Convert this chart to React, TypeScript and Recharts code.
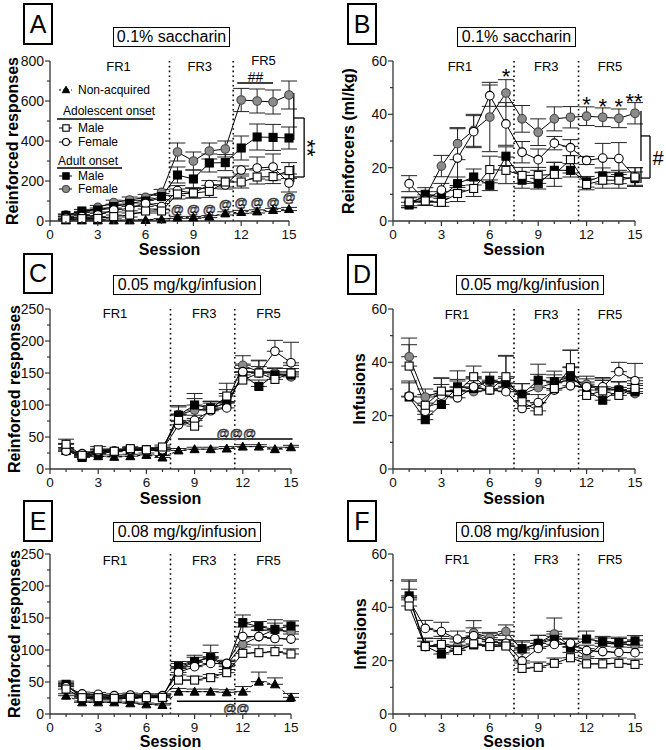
import React from 'react';
import { LineChart, Line, XAxis, YAxis, ErrorBar, ReferenceLine, ReferenceDot } from 'recharts';

const FONT = '"Liberation Sans", Arial, sans-serif';
const AX = '#333';
const GRAY = '#8c8c8c';

const sessions = [1, 2, 3, 4, 5, 6, 7, 8, 9, 10, 11, 12, 13, 14, 15];
const xTicks = [0, 1, 2, 3, 4, 5, 6, 7, 8, 9, 10, 11, 12, 13, 14, 15];
const phaseBreaks = [7.5, 11.5];

// A: reinforced responses, 0.1% saccharin
const aNon = [3, 3, 3, 3, 3, 5, 8, 18, 18, 22, 38, 45, 48, 55, 60];
const aNonErr = [2, 2, 2, 2, 2, 3, 4, 5, 5, 5, 8, 8, 8, 8, 8];
const aAdoM = [10, 12, 13, 22, 30, 50, 50, 135, 140, 148, 195, 195, 220, 222, 252];
const aAdoMErr = [3, 5, 5, 8, 10, 10, 10, 25, 25, 30, 25, 30, 35, 35, 40];
const aAdoF = [15, 22, 30, 55, 63, 88, 72, 152, 140, 182, 180, 255, 265, 270, 190];
const aAdoFErr = [5, 5, 8, 10, 12, 15, 15, 25, 25, 20, 20, 20, 55, 65, 45];
const aAdtM = [28, 50, 55, 72, 88, 100, 122, 230, 210, 290, 292, 365, 420, 418, 415];
const aAdtMErr = [5, 8, 10, 12, 15, 15, 15, 40, 45, 45, 40, 60, 65, 65, 55];
const aAdtF = [30, 40, 68, 92, 105, 118, 143, 345, 300, 350, 360, 605, 600, 595, 630];
const aAdtFErr = [5, 8, 10, 12, 15, 15, 15, 45, 45, 40, 40, 58, 60, 60, 70];

// B: reinforcers (ml/kg), 0.1% saccharin
const bAdoM = [7.2, 7.5, 7, 10.3, 12.2, 19.3, 19, 17.1, 17.1, 17.5, 23, 13.7, 15.3, 15.3, 16.5];
const bAdoMErr = [1.5, 1.5, 1.5, 3, 3, 5, 5, 3, 3, 4.5, 5, 2, 3, 3, 3.5];
const bAdoF = [14, 7.8, 11.6, 23.6, 33.5, 47, 36.4, 25.8, 23, 29.2, 27.5, 22.7, 23.6, 23.4, 16.5];
const bAdoFErr = [3, 2, 2.5, 11, 6, 4, 8, 4, 4, 2.5, 3, 1.5, 5.5, 6, 3.5];
const bAdtM = [6, 10, 9, 14, 16.5, 13.4, 24.3, 15.3, 14, 19, 19, 14.7, 16.9, 16.5, 15.9];
const bAdtMErr = [1, 2.5, 2, 2.5, 3, 2, 3.5, 3, 2, 3, 2.5, 2, 3, 2.5, 2.5];
const bAdtF = [7, 9, 20.6, 29, 34, 39, 48, 38.3, 33.3, 38.3, 38.9, 39.3, 38.9, 38.5, 40.4];
const bAdtFErr = [2, 2, 4, 6, 6, 13, 5, 5, 5, 4.5, 4, 3.5, 3.5, 3.5, 4];

// C: reinforced responses, 0.05 mg/kg/infusion
const cNon = [28, 20, 20, 19, 20, 22, 18, 29, 31, 31, 32, 35, 35, 31, 34];
const cNonErr = [5, 3, 3, 3, 3, 3, 3, 3, 3, 3, 3, 3, 3, 3, 3];
const cAdoM = [38.6, 21.4, 30, 27.7, 31.8, 30, 34.4, 76, 67, 93, 114, 139, 150, 140, 150];
const cAdoMErr = [8, 3, 5, 3, 3, 3, 3, 10, 12, 10, 20, 12, 20, 12, 12];
const cAdoF = [28, 24, 28, 28, 30, 29, 30, 69, 76, 91, 95.5, 152, 150, 184, 166];
const cAdoFErr = [5, 3, 3, 3, 3, 3, 3, 5, 8, 8, 10, 12, 10, 17, 32];
const cAdtM = [30, 18, 24, 27, 30, 30, 28, 84, 100, 95.5, 103, 147, 129, 147, 147];
const cAdtMErr = [10, 3, 3, 3, 3, 3, 3, 15, 18, 10, 15, 10, 10, 10, 10];
const cAdtF = [33, 20, 26, 28, 30, 30, 30, 85, 92, 94, 104, 162, 152, 150, 144];
const cAdtFErr = [6, 3, 5, 3, 3, 3, 3, 12, 18, 12, 20, 15, 17, 8, 8];

// D: infusions, 0.05 mg/kg/infusion
const dAdoM = [38.6, 23.9, 29.2, 29, 34.6, 29.6, 34.6, 25.2, 21.8, 30.2, 38, 27.6, 29.3, 27.6, 30.2];
const dAdoMErr = [8, 4, 5, 4, 4, 3, 8, 3, 3, 4, 6.5, 3, 5, 3, 4];
const dAdoF = [27.3, 21.7, 27.7, 26.7, 30.8, 29.6, 29, 22.7, 24.9, 29.6, 31.2, 30.8, 30.8, 36.5, 33.1];
const dAdoFErr = [5, 3, 4, 4, 3, 3, 3, 3, 3, 3, 3, 3, 3, 3.5, 6.5];
const dAdtM = [27, 18.5, 24.2, 30.8, 30.2, 33.3, 32.3, 28, 33.3, 32.7, 34.6, 29.6, 25.8, 29.6, 29];
const dAdtMErr = [6, 2, 3, 6, 4, 3, 10, 4, 6, 4, 10, 3, 4, 3, 3];
const dAdtF = [42.1, 27, 29, 29.6, 29, 29.6, 31, 28, 30.5, 32.3, 33.3, 31.8, 30.2, 29.8, 28.3];
const dAdtFErr = [7, 3, 5, 4, 3, 3, 3, 4, 5, 3, 5, 3, 3, 3, 3];

// E: reinforced responses, 0.08 mg/kg/infusion
const eNon = [28.6, 18.2, 18.2, 18.2, 16.7, 15.1, 14.1, 34.9, 34.9, 34.9, 33.9, 34.9, 50.5, 46.4, 26];
const eNonErr = [3, 2, 2, 2, 2, 2, 2, 5, 4, 4, 4, 8, 15, 10, 6];
const eAdoM = [39, 25.5, 25.5, 24.5, 26, 25.5, 26, 53, 53, 56.8, 64.6, 94.8, 95.8, 97.4, 93.8];
const eAdoMErr = [5, 3, 3, 3, 3, 3, 3, 8, 6, 5, 5, 10, 12, 10, 8];
const eAdoF = [42.7, 31.3, 30.7, 28.6, 29.7, 28.6, 28.6, 65, 74, 79, 79, 121, 121, 118, 117];
const eAdoFErr = [5, 3, 3, 3, 3, 3, 3, 8, 8, 8, 5, 15, 10, 12, 8];
const eAdtM = [46.4, 24.5, 23.4, 23.4, 24.5, 26, 25.5, 74, 81.8, 88, 74, 142.7, 136.5, 132.3, 137.5];
const eAdtMErr = [5, 3, 3, 3, 3, 3, 3, 8, 10, 8, 8, 12, 8, 15, 8];
const eAdtF = [43.8, 28, 27, 25.5, 28, 27, 27, 71, 80.7, 89.6, 76.6, 108.9, 121, 132, 128.6];
const eAdtFErr = [5, 3, 3, 3, 3, 3, 3, 8, 8, 18, 6, 10, 10, 10, 10];

// F: infusions, 0.08 mg/kg/infusion
const fAdoM = [40.5, 25.3, 26.1, 23.8, 26.3, 25.3, 25.5, 17.1, 17.5, 19, 21.1, 18.8, 18.8, 19, 18.6];
const fAdoMErr = [3, 2, 3, 2, 2, 2, 2, 2, 2, 2, 2, 2, 2, 2, 2];
const fAdoF = [42.8, 32.1, 30.9, 28.1, 29.3, 27.1, 26.5, 19.9, 24.6, 26.1, 26.5, 23.8, 23.4, 23.1, 23];
const fAdoFErr = [4, 3, 3.5, 3, 3, 3, 3, 3, 3, 3, 2, 2, 2, 2, 2];
const fAdtM = [44.3, 25.5, 22.5, 24, 25.9, 25.9, 25.9, 24.5, 26.5, 28, 25, 28.1, 27.1, 26.8, 27.4];
const fAdtMErr = [6, 3, 3, 3, 3, 2, 2, 3, 3, 3, 3, 3, 2, 2, 2];
const fAdtF = [43.8, 25.3, 25.3, 25.5, 30.5, 28.6, 30.9, 24, 26.5, 30, 25.3, 21.5, 26.5, 26.3, 25.8];
const fAdtFErr = [6, 3, 3, 3, 4.5, 2, 2.5, 3, 3, 6, 3, 3, 2, 2, 2];

type Col = [string, number[], number[]];

function buildRows(cols: Col[], oneSided: boolean) {
  return sessions.map((s, i) => {
    const r: any = { session: s };
    cols.forEach(([k, v, e]) => {
      r[k] = v[i];
      r[k + 'E'] = oneSided ? [0, e[i]] : e[i];
    });
    return r;
  });
}

const dataA = buildRows([['non', aNon, aNonErr], ['adtF', aAdtF, aAdtFErr], ['adtM', aAdtM, aAdtMErr], ['adoF', aAdoF, aAdoFErr], ['adoM', aAdoM, aAdoMErr]], false);
const dataB = buildRows([['adtF', bAdtF, bAdtFErr], ['adtM', bAdtM, bAdtMErr], ['adoF', bAdoF, bAdoFErr], ['adoM', bAdoM, bAdoMErr]], false);
const dataC = buildRows([['non', cNon, cNonErr], ['adtF', cAdtF, cAdtFErr], ['adtM', cAdtM, cAdtMErr], ['adoF', cAdoF, cAdoFErr], ['adoM', cAdoM, cAdoMErr]], true);
const dataD = buildRows([['adtF', dAdtF, dAdtFErr], ['adtM', dAdtM, dAdtMErr], ['adoF', dAdoF, dAdoFErr], ['adoM', dAdoM, dAdoMErr]], true);
const dataE = buildRows([['non', eNon, eNonErr], ['adtF', eAdtF, eAdtFErr], ['adtM', eAdtM, eAdtMErr], ['adoF', eAdoF, eAdoFErr], ['adoM', eAdoM, eAdoMErr]], true);
const dataF = buildRows([['adtF', fAdtF, fAdtFErr], ['adtM', fAdtM, fAdtMErr], ['adoF', fAdoF, fAdoFErr], ['adoM', fAdoM, fAdoMErr]], true);

const STYLE: Record<string, { shape: string; fill: string; stroke: string; dash?: string }> = {
  non: { shape: 'triangle', fill: '#000', stroke: '#000', dash: '3 3' },
  adtF: { shape: 'circle', fill: GRAY, stroke: '#444' },
  adtM: { shape: 'square', fill: '#000', stroke: '#000' },
  adoF: { shape: 'circle', fill: '#fff', stroke: '#000' },
  adoM: { shape: 'square', fill: '#fff', stroke: '#000' },
};

function drawMarker(shape: string, fill: string, stroke: string, cx: number, cy: number, s = 4) {
  if (shape === 'square')
    return <rect x={cx - s} y={cy - s} width={2 * s} height={2 * s} fill={fill} stroke={stroke} strokeWidth={1.1} />;
  if (shape === 'circle') return <circle cx={cx} cy={cy} r={s + 0.3} fill={fill} stroke={stroke} strokeWidth={1.1} />;
  return <path d={`M${cx},${cy - s - 0.5}L${cx + s + 0.5},${cy + s - 0.5}L${cx - s - 0.5},${cy + s - 0.5}Z`} fill={fill} stroke={stroke} />;
}

const dotFor = (k: string) => (p: any) => {
  const st = STYLE[k];
  if (p.cx == null || p.cy == null) return <g key={p.index} />;
  return <g key={p.index}>{drawMarker(st.shape, st.fill, st.stroke, p.cx, p.cy)}</g>;
};

const xTick = (p: any) => {
  const v = p.payload.value;
  const major = v % 3 === 0;
  return (
    <g>
      <line x1={p.x} x2={p.x} y1={p.y} y2={p.y + (major ? 5 : 3)} stroke={AX} strokeWidth={1.2} />
      {major && (
        <text x={p.x} y={p.y + 18} textAnchor="middle" fontSize={13.5} fill="#111">
          {v}
        </text>
      )}
    </g>
  );
};

const yTick = (major: number) => (p: any) => {
  const v = p.payload.value;
  const isMajor = v % major === 0;
  return (
    <g>
      <line x1={p.x - (isMajor ? 5 : 3)} x2={p.x} y1={p.y} y2={p.y} stroke={AX} strokeWidth={1.2} />
      {isMajor && (
        <text x={p.x - 6} y={p.y + 5} textAnchor="end" fontSize={14} fill="#111">
          {v}
        </text>
      )}
    </g>
  );
};

function txt(k: string, x: number, y: number, s: string, o: { fs?: number; dy?: number; rot?: number; outline?: boolean } = {}) {
  const fs = o.fs ?? 13;
  return (
    <ReferenceDot
      key={k}
      x={x}
      y={y}
      r={1}
      ifOverflow="visible"
      shape={(p: any) => (
        <text
          x={p.cx}
          y={p.cy}
          dy={o.dy ?? fs * 0.36}
          textAnchor="middle"
          fontSize={fs}
          fill={o.outline ? '#fff' : '#000'}
          stroke={o.outline ? '#000' : 'none'}
          strokeWidth={o.outline ? 0.55 : 0}
          transform={o.rot ? `rotate(${o.rot} ${p.cx} ${p.cy})` : undefined}
        >
          {s}
        </text>
      )}
    />
  );
}

function seg(k: string, x1: number, y1: number, x2: number, y2: number, w = 1.3) {
  return (
    <ReferenceLine
      key={k}
      segment={[{ x: x1, y: y1 }, { x: x2, y: y2 }]}
      stroke="#000"
      strokeWidth={w}
      ifOverflow="visible"
    />
  );
}

type PanelProps = {
  left: number;
  top: number;
  plot: [number, number, number, number];
  yMax: number;
  yStep: number;
  yMajor: number;
  yLabel: string;
  yLabelX: number;
  sessionDy: number;
  data: any[];
  keys: string[];
  frY: number;
  fr: [number, number, number];
  children?: React.ReactNode;
};

function Panel(p: PanelProps) {
  const W = 333;
  const H = 258;
  const yTicks: number[] = [];
  for (let v = 0; v <= p.yMax; v += p.yStep) yTicks.push(v);
  const [x0, y0, x1, y1] = p.plot;
  return (
    <div style={{ position: 'absolute', left: p.left, top: p.top }}>
      <LineChart width={W} height={H} data={p.data} margin={{ top: y0 - p.top, right: p.left + W - x1, left: 0, bottom: 0 }}>
        <XAxis
          dataKey="session"
          type="number"
          domain={[0, 15]}
          ticks={xTicks}
          interval={0}
          tick={xTick}
          tickSize={0}
          tickMargin={0}
          tickLine={false}
          axisLine={{ stroke: AX, strokeWidth: 1.3 }}
          height={p.top + H - y1}
          label={{
            value: 'Session',
            content: () => (
              <text x={(x0 + x1) / 2 - p.left} y={y1 - p.top + p.sessionDy} textAnchor="middle" fontSize={16} fontWeight="bold" fill="#000">
                Session
              </text>
            ),
          }}
        />
        <YAxis
          type="number"
          domain={[0, p.yMax]}
          ticks={yTicks}
          interval={0}
          tick={yTick(p.yMajor)}
          tickSize={0}
          tickMargin={0}
          tickLine={false}
          axisLine={{ stroke: AX, strokeWidth: 1.3 }}
          width={x0 - p.left}
          label={{
            value: p.yLabel,
            content: () => {
              const cx = p.yLabelX - p.left;
              const cy = (y0 + y1) / 2 - p.top;
              return (
                <text x={cx} y={cy} dy={6} textAnchor="middle" fontSize={16} fontWeight="bold" fill="#000" transform={`rotate(-90 ${cx} ${cy})`}>
                  {p.yLabel}
                </text>
              );
            },
          }}
        />
        {phaseBreaks.map((b) => (
          <ReferenceLine key={'pb' + b} x={b} stroke="#000" strokeWidth={1.6} strokeDasharray="1.6 3.2" />
        ))}
        {txt('fr1', p.fr[0], p.frY, 'FR1')}
        {txt('fr3', p.fr[1], p.frY, 'FR3')}
        {p.keys.map((k) => (
          <Line
            key={k}
            dataKey={k}
            type="linear"
            stroke="#000"
            strokeWidth={1}
            strokeDasharray={STYLE[k].dash}
            dot={dotFor(k)}
            activeDot={false}
            isAnimationActive={false}
          >
            <ErrorBar dataKey={k + 'E'} direction="y" width={8} stroke="#222" strokeWidth={1} />
          </Line>
        ))}
        {p.children}
      </LineChart>
    </div>
  );
}

function Box({ x, y, w, h, text, fs, bw }: { x: number; y: number; w: number; h: number; text: string; fs: number; bw: number }) {
  return (
    <div
      style={{
        position: 'absolute',
        left: x,
        top: y,
        width: w,
        height: h,
        boxSizing: 'border-box',
        border: `${bw}px solid #000`,
        display: 'flex',
        alignItems: 'center',
        justifyContent: 'center',
        fontSize: fs,
        lineHeight: 1,
        background: '#fff',
      }}
    >
      {text}
    </div>
  );
}

function LegendA() {
  const rows: [string, number][] = [
    ['adoM', 128],
    ['adoF', 142],
    ['adtM', 176],
    ['adtF', 189],
  ];
  return (
    <svg width={170} height={200} style={{ position: 'absolute', left: 0, top: 0 }}>
      <line x1={59} x2={72} y1={90} y2={90} stroke="#000" strokeDasharray="2 2" />
      {drawMarker('triangle', '#000', '#000', 66, 90, 3.2)}
      <text x={78} y={94} fontSize={12}>Non-acquired</text>
      <text x={63} y={115} fontSize={12}>Adolescent onset</text>
      <line x1={57} x2={153} y1={119} y2={119} stroke="#000" strokeWidth={1.4} />
      <text x={58} y={165} fontSize={12}>Adult onset</text>
      <line x1={57} x2={122} y1={168} y2={168} stroke="#000" strokeWidth={1.4} />
      {rows.map(([k, y]) => (
        <g key={k}>
          <line x1={59} x2={72} y1={y} y2={y} stroke="#000" />
          {drawMarker(STYLE[k].shape, STYLE[k].fill, STYLE[k].stroke, 66, y, 3.2)}
          <text x={78} y={y + 4} fontSize={12}>
            {k.endsWith('M') ? 'Male' : 'Female'}
          </text>
        </g>
      ))}
    </svg>
  );
}

const allKeys = ['non', 'adtF', 'adtM', 'adoF', 'adoM'];
const ratKeys = ['adtF', 'adtM', 'adoF', 'adoM'];
const atSessions = [8, 9, 10, 11, 12, 13, 14, 15];
const atHeights = [58, 58, 58, 85, 93, 93, 93, 118];

export default function App() {
  return (
    <div style={{ position: 'absolute', left: 0, top: 0, width: 666, height: 750, background: '#fff', fontFamily: FONT, color: '#000', overflow: 'hidden' }}>
      <Panel left={0} top={0} plot={[50, 61, 289, 221]} yMax={800} yStep={100} yMajor={200} yLabel="Reinforced responses" yLabelX={12} sessionDy={34} data={dataA} keys={allKeys} frY={775} fr={[4.3, 9.4, 13.4]}>
        {txt('fr5', 13.4, 805, 'FR5')}
        {seg('hh', 11.75, 690, 14.0, 690)}
        {txt('hhT', 12.9, 722, '##', { fs: 14 })}
        {atSessions.map((s, i) => txt('at' + s, s, atHeights[i], '@', { fs: 13, outline: true }))}
        {seg('b1', 15.3, 640, 15.3, 405)}
        {seg('b2', 15.3, 515, 15.95, 515)}
        {seg('b3', 15.95, 515, 15.95, 220)}
        {seg('b4', 15.95, 220, 15.3, 220)}
        {seg('b5', 15.3, 280, 15.3, 195)}
        {txt('ss', 16.45, 365, '**', { fs: 22, dy: 12, rot: 90 })}
      </Panel>
      <LegendA />

      <Panel left={333} top={0} plot={[393, 61, 635, 221]} yMax={60} yStep={10} yMajor={20} yLabel="Reinforcers (ml/kg)" yLabelX={348} sessionDy={34} data={dataB} keys={ratKeys} frY={58} fr={[4.15, 9.5, 13.45]}>
        {txt('fr5', 13.45, 58, 'FR5')}
        {txt('s7', 7, 55.9, '*', { fs: 22, dy: 12 })}
        {txt('s12', 12, 45.4, '*', { fs: 22, dy: 12 })}
        {txt('s13', 13, 44.7, '*', { fs: 22, dy: 12 })}
        {txt('s14', 14, 44.7, '*', { fs: 22, dy: 12 })}
        {txt('s15', 14.94, 46.6, '**', { fs: 22, dy: 12 })}
        {seg('b1', 15.37, 41.25, 15.37, 22.5)}
        {seg('b2', 15.37, 31.9, 15.93, 31.9)}
        {seg('b3', 15.93, 31.9, 15.93, 16.1)}
        {seg('b4', 15.93, 16.1, 15.37, 16.1)}
        {seg('b5', 15.37, 20.25, 15.37, 14.25)}
        {txt('hash', 16.43, 23.6, '#', { fs: 20, dy: 7 })}
      </Panel>

      <Panel left={0} top={250} plot={[50, 309, 291, 469]} yMax={250} yStep={25} yMajor={50} yLabel="Reinforced responses" yLabelX={14} sessionDy={35} data={dataC} keys={allKeys} frY={243.75} fr={[4.05, 9.6, 13.6]}>
        {txt('fr5', 13.6, 243.75, 'FR5')}
        {seg('cl', 7.97, 47, 15.1, 47, 1.5)}
        {txt('cat', 11.6, 56, '@@@', { fs: 13, outline: true })}
      </Panel>

      <Panel left={333} top={250} plot={[393, 309, 635, 469]} yMax={60} yStep={10} yMajor={20} yLabel="Infusions" yLabelX={359} sessionDy={35} data={dataD} keys={ratKeys} frY={58.1} fr={[3.97, 9.5, 13.45]}>
        {txt('fr5', 13.45, 58.1, 'FR5')}
      </Panel>

      <Panel left={0} top={492} plot={[50, 554, 291, 714]} yMax={250} yStep={25} yMajor={50} yLabel="Reinforced responses" yLabelX={14} sessionDy={33} data={dataE} keys={allKeys} frY={240.6} fr={[4.05, 9.6, 13.6]}>
        {txt('fr5', 13.6, 240.6, 'FR5')}
        {seg('el', 7.9, 20, 15.2, 20, 1.5)}
        {txt('eat', 11.6, 9, '@@', { fs: 13, outline: true })}
      </Panel>

      <Panel left={333} top={492} plot={[393, 554, 635, 714]} yMax={60} yStep={10} yMajor={20} yLabel="Infusions" yLabelX={360} sessionDy={33} data={dataF} keys={ratKeys} frY={58.1} fr={[3.97, 9.5, 13.45]}>
        {txt('fr5', 13.45, 58.1, 'FR5')}
      </Panel>

      <Box x={23} y={3} w={30} h={42} text="A" fs={25} bw={2} />
      <Box x={347} y={3} w={30} h={42} text="B" fs={25} bw={2} />
      <Box x={23} y={253} w={30} h={41} text="C" fs={25} bw={2} />
      <Box x={347} y={254} w={30} h={41} text="D" fs={25} bw={2} />
      <Box x={23} y={500} w={30} h={42} text="E" fs={25} bw={2} />
      <Box x={347} y={500} w={30} h={42} text="F" fs={25} bw={2} />

      <Box x={113} y={27} w={117} h={20} text="0.1% saccharin" fs={16} bw={1} />
      <Box x={457} y={27} w={119} h={20} text="0.1% saccharin" fs={16} bw={1} />
      <Box x={113} y={275} w={148} h={20} text="0.05 mg/kg/infusion" fs={16} bw={1} />
      <Box x={456} y={275} w={148} h={20} text="0.05 mg/kg/infusion" fs={16} bw={1} />
      <Box x={113} y={522} w={148} h={20} text="0.08 mg/kg/infusion" fs={16} bw={1} />
      <Box x={456} y={522} w={148} h={20} text="0.08 mg/kg/infusion" fs={16} bw={1} />
    </div>
  );
}
